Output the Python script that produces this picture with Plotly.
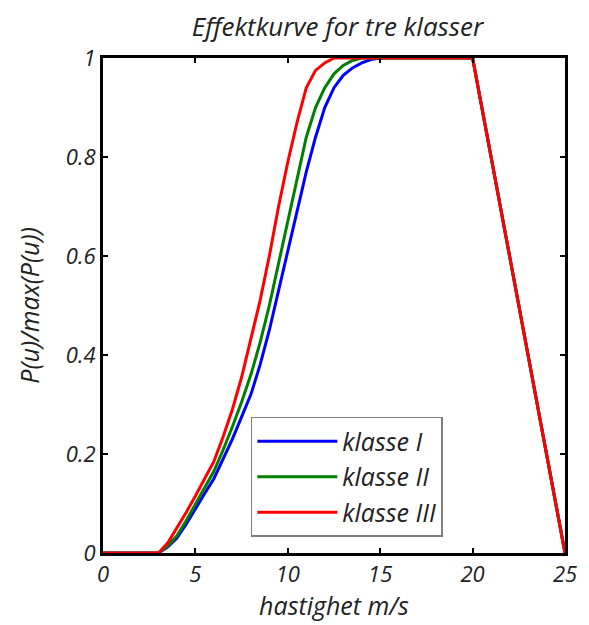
import plotly.graph_objects as go

# wind speed (m/s)
u = [0, 1, 2, 3, 3.5, 4, 4.5, 5, 5.5, 6, 6.5, 7, 7.5, 8, 8.5, 9, 9.5, 10, 10.5, 11,
     11.5, 12, 12.5, 13, 13.5, 14, 14.5, 15, 16, 17, 18, 19, 20, 25]

klasse_I = [0, 0, 0, 0, 0.012, 0.03, 0.058, 0.09, 0.12, 0.15, 0.19, 0.23, 0.275, 0.32,
            0.38, 0.45, 0.53, 0.61, 0.69, 0.77, 0.84, 0.90, 0.94, 0.965, 0.98, 0.99,
            0.997, 1.0, 1.0, 1.0, 1.0, 1.0, 1.0, 0]
klasse_II = [0, 0, 0, 0, 0.014, 0.035, 0.065, 0.10, 0.132, 0.165, 0.208, 0.255, 0.305,
             0.36, 0.425, 0.50, 0.585, 0.67, 0.755, 0.84, 0.90, 0.94, 0.968, 0.985,
             0.995, 1.0, 1.0, 1.0, 1.0, 1.0, 1.0, 1.0, 1.0, 0]
klasse_III = [0, 0, 0, 0, 0.02, 0.05, 0.082, 0.115, 0.15, 0.185, 0.235, 0.29, 0.355,
              0.43, 0.51, 0.60, 0.70, 0.79, 0.87, 0.94, 0.975, 0.99, 1.0, 1.0, 1.0,
              1.0, 1.0, 1.0, 1.0, 1.0, 1.0, 1.0, 1.0, 0]

names = ["klasse I", "klasse II", "klasse III"]
colors = ["#0000ff", "#008000", "#ff0000"]
series = [klasse_I, klasse_II, klasse_III]

font_family = "Open Sans, DejaVu Sans, sans-serif"
txt_color = "#222222"

fig = go.Figure()
for name, col, ys in zip(names, colors, series):
    fig.add_trace(go.Scatter(x=u, y=ys, mode="lines", name=name,
                             line=dict(color=col, width=3)))

axis_common = dict(
    showgrid=False, zeroline=False, showline=True, linecolor="black", linewidth=3,
    mirror="ticks", ticks="inside", ticklen=5, tickwidth=2, tickcolor="black",
    tickfont=dict(family=font_family, size=22, color=txt_color, style="italic"),
)

fig.update_layout(
    width=589, height=625,
    margin=dict(l=103, r=17, t=58, b=72),
    paper_bgcolor="white", plot_bgcolor="white",
    title=dict(text="Effektkurve for tre klasser", x=(103 + 572) / 2 / 589, xanchor="center",
               y=1 - 27 / 625, yanchor="middle",
               font=dict(family=font_family, size=26, color=txt_color, style="italic")),
    xaxis=dict(range=[0, 25], dtick=5, tick0=0,
               title=dict(text="hastighet m/s", standoff=0,
                          font=dict(family=font_family, size=25, color=txt_color, style="italic")),
               **axis_common),
    yaxis=dict(range=[0, 1], dtick=0.2, tick0=0,
               title=dict(text="P(u)/max(P(u))", standoff=20,
                          font=dict(family=font_family, size=25, color=txt_color, style="italic")),
               **axis_common),
    legend=dict(x=0.32, y=0.275, xanchor="left", yanchor="top", itemwidth=80,
                bgcolor="white", bordercolor="#808080", borderwidth=1.5,
                font=dict(family=font_family, size=25, color=txt_color, style="italic")),
    showlegend=True,
)

fig.write_html("out.html")
